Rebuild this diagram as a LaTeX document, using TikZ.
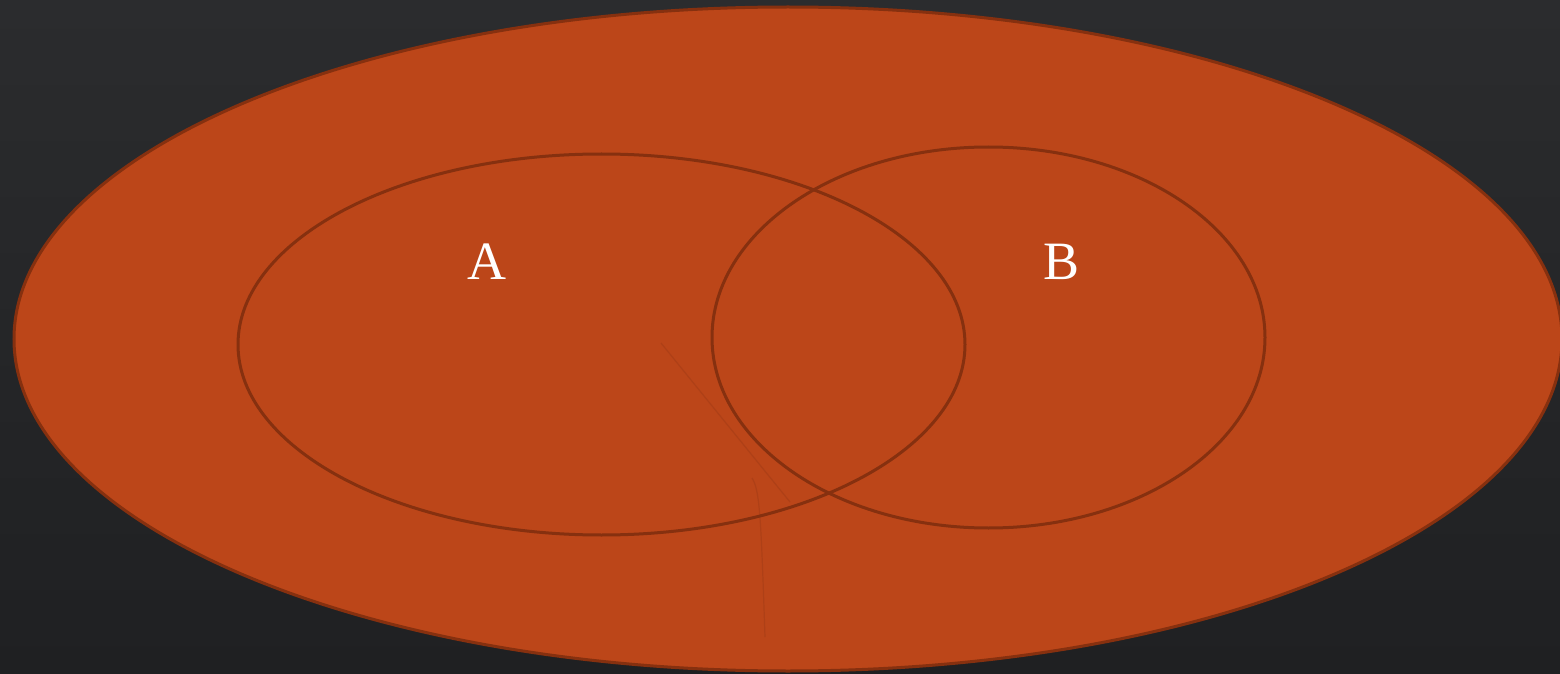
\documentclass[tikz,border=0pt]{standalone}
\usepackage{fontspec}
\setmainfont{Liberation Serif}
\definecolor{bgtop}{HTML}{2B2C2E}
\definecolor{bgbot}{HTML}{1F2022}
\definecolor{setfill}{HTML}{BC4619}
\definecolor{setline}{HTML}{86300F}
\definecolor{faint}{HTML}{AE4017}
\tikzset{
  setring/.style={draw=setline, line width=1.5pt},
  faintline/.style={draw=faint, line width=0.6pt},
  setlabel/.style={text=white, font=\fontsize{27}{30}\selectfont, inner sep=0pt}
}
\begin{document}
\begin{tikzpicture}[x=0.5pt,y=-0.5pt]
\useasboundingbox (0,0) rectangle (1560,674);
\clip (0,0) rectangle (1560,674);
\shade[top color=bgtop, bottom color=bgbot] (0,0) rectangle (1560,674);
\path[fill=setfill, draw=setline, line width=1.5pt] (788,339) ellipse [x radius=774, y radius=332];
\draw[faintline] (661,343) -- (790,502);
\draw[faintline] (752,478) .. controls (760,490) and (761,520) .. (765,637);
\draw[setring] (601.5,344.5) ellipse [x radius=363.5, y radius=190.5];
\draw[setring] (988.5,337.5) ellipse [x radius=276.5, y radius=190.5];
\node[setlabel] (A) at (487,262) {A};
\node[setlabel] (B) at (1062,262) {B};
\end{tikzpicture}
\end{document}
